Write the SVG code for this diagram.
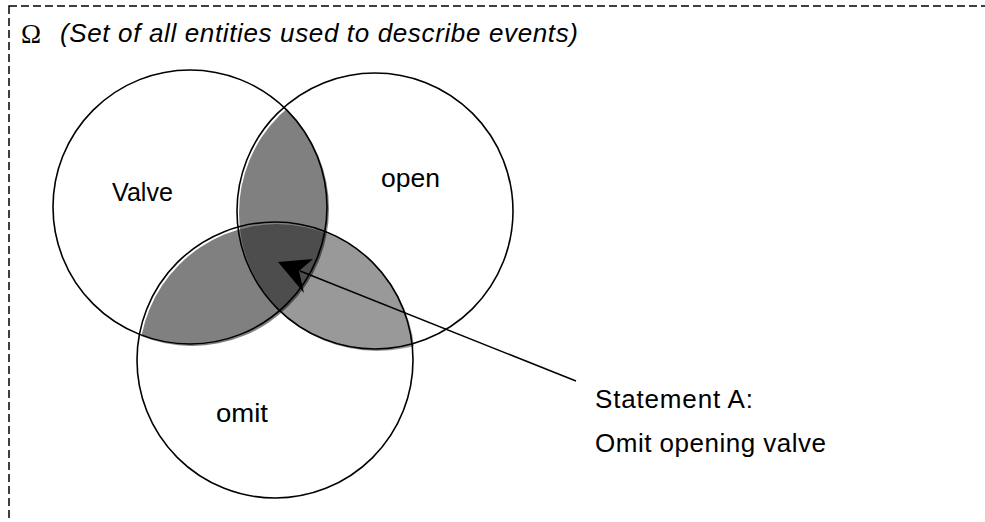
<svg xmlns="http://www.w3.org/2000/svg" width="985" height="522" viewBox="0 0 985 522">
  <style>
    .set { fill: none; stroke: #000; stroke-width: 1.6; }
    .lbl { font-family: "Liberation Sans", Arial, sans-serif; font-size: 26px; fill: #000; }
    .frame { fill: none; stroke: #000; stroke-width: 1.5; stroke-dasharray: 8 4; }
  </style>
  <defs>
    <clipPath id="clipValve"><circle cx="190" cy="207" r="137"/></clipPath>
    <clipPath id="clipOpen"><circle cx="375" cy="211" r="138"/></clipPath>
    <clipPath id="clipOmit"><circle cx="275" cy="360" r="138"/></clipPath>
  </defs>

  <rect width="985" height="522" fill="#fff"/>

  <!-- universe frame -->
  <rect class="frame" x="9" y="6" width="1000" height="540"/>
  <g id="title">
    <text x="21" y="43" font-family="'Liberation Serif', 'Times New Roman', serif" font-size="27">Ω</text>
    <text x="60" y="42" class="lbl" font-size="25" font-style="italic" textLength="518" lengthAdjust="spacing">(Set of all entities used to describe events)</text>
  </g>

  <!-- intersection shading -->
  <g id="shading" transform="translate(2,2)">
    <g clip-path="url(#clipOpen)"><circle cx="190" cy="207" r="137" fill="#808080"/></g>
    <g clip-path="url(#clipOmit)"><circle cx="190" cy="207" r="137" fill="#808080"/></g>
    <g clip-path="url(#clipOmit)"><circle cx="375" cy="211" r="138" fill="#999999"/></g>
    <g clip-path="url(#clipOmit)"><g clip-path="url(#clipOpen)"><circle cx="190" cy="207" r="137" fill="#4d4d4d"/></g></g>
  </g>

  <g id="valve">
    <circle class="set" cx="190" cy="207" r="137"/>
    <text class="lbl" x="112" y="201" textLength="61" lengthAdjust="spacingAndGlyphs">Valve</text>
  </g>
  <g id="open">
    <circle class="set" cx="375" cy="211" r="138"/>
    <text class="lbl" x="381" y="187" textLength="59" lengthAdjust="spacingAndGlyphs">open</text>
  </g>
  <g id="omit">
    <circle class="set" cx="275" cy="360" r="138"/>
    <text class="lbl" x="216" y="422" textLength="52" lengthAdjust="spacingAndGlyphs">omit</text>
  </g>

  <g id="statement">
    <text class="lbl" x="595" y="408" textLength="158" lengthAdjust="spacing">Statement A:</text>
    <text class="lbl" x="595" y="452" textLength="231" lengthAdjust="spacing">Omit opening valve</text>
  </g>

  <!-- pointer from the statement to the triple intersection -->
  <g id="connectors">
    <line x1="576" y1="381" x2="300" y2="271" stroke="#000" stroke-width="1.5"/>
    <polygon points="278,262 313,259 299,271 304,293" fill="#000"/>
  </g>
</svg>
